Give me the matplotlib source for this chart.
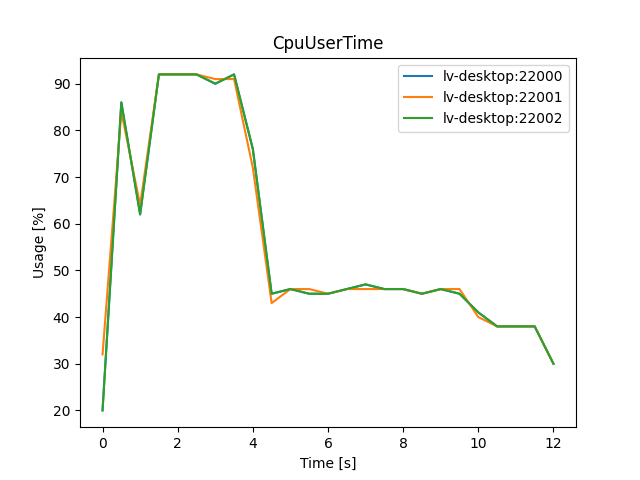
import matplotlib
matplotlib.use('Agg')
import matplotlib.pyplot as plt

time_s = [0, 0.5, 1, 1.5, 2, 2.5, 3, 3.5, 4, 4.5, 5, 5.5, 6, 6.5, 7, 7.5, 8, 8.5, 9, 9.5, 10, 10.5, 11, 11.5, 12]

usage_22000 = [20, 86, 62, 92, 92, 92, 90, 92, 76, 45, 46, 45, 45, 46, 47, 46, 46, 45, 46, 45, 41, 38, 38, 38, 30]
usage_22001 = [32, 84, 64, 92, 92, 92, 91, 91, 72, 43, 46, 46, 45, 46, 46, 46, 46, 45, 46, 46, 40, 38, 38, 38, 30]
usage_22002 = [20, 86, 62, 92, 92, 92, 90, 92, 76, 45, 46, 45, 45, 46, 47, 46, 46, 45, 46, 45, 41, 38, 38, 38, 30]

fig = plt.figure(figsize=(6.4, 4.8), dpi=100)
plt.plot(time_s, usage_22000, label='lv-desktop:22000')
plt.plot(time_s, usage_22001, label='lv-desktop:22001')
plt.plot(time_s, usage_22002, label='lv-desktop:22002')
plt.xlabel('Time [s]')
plt.ylabel('Usage [%]')
plt.title('CpuUserTime')
plt.legend(loc='upper right')
plt.savefig('out.png')
